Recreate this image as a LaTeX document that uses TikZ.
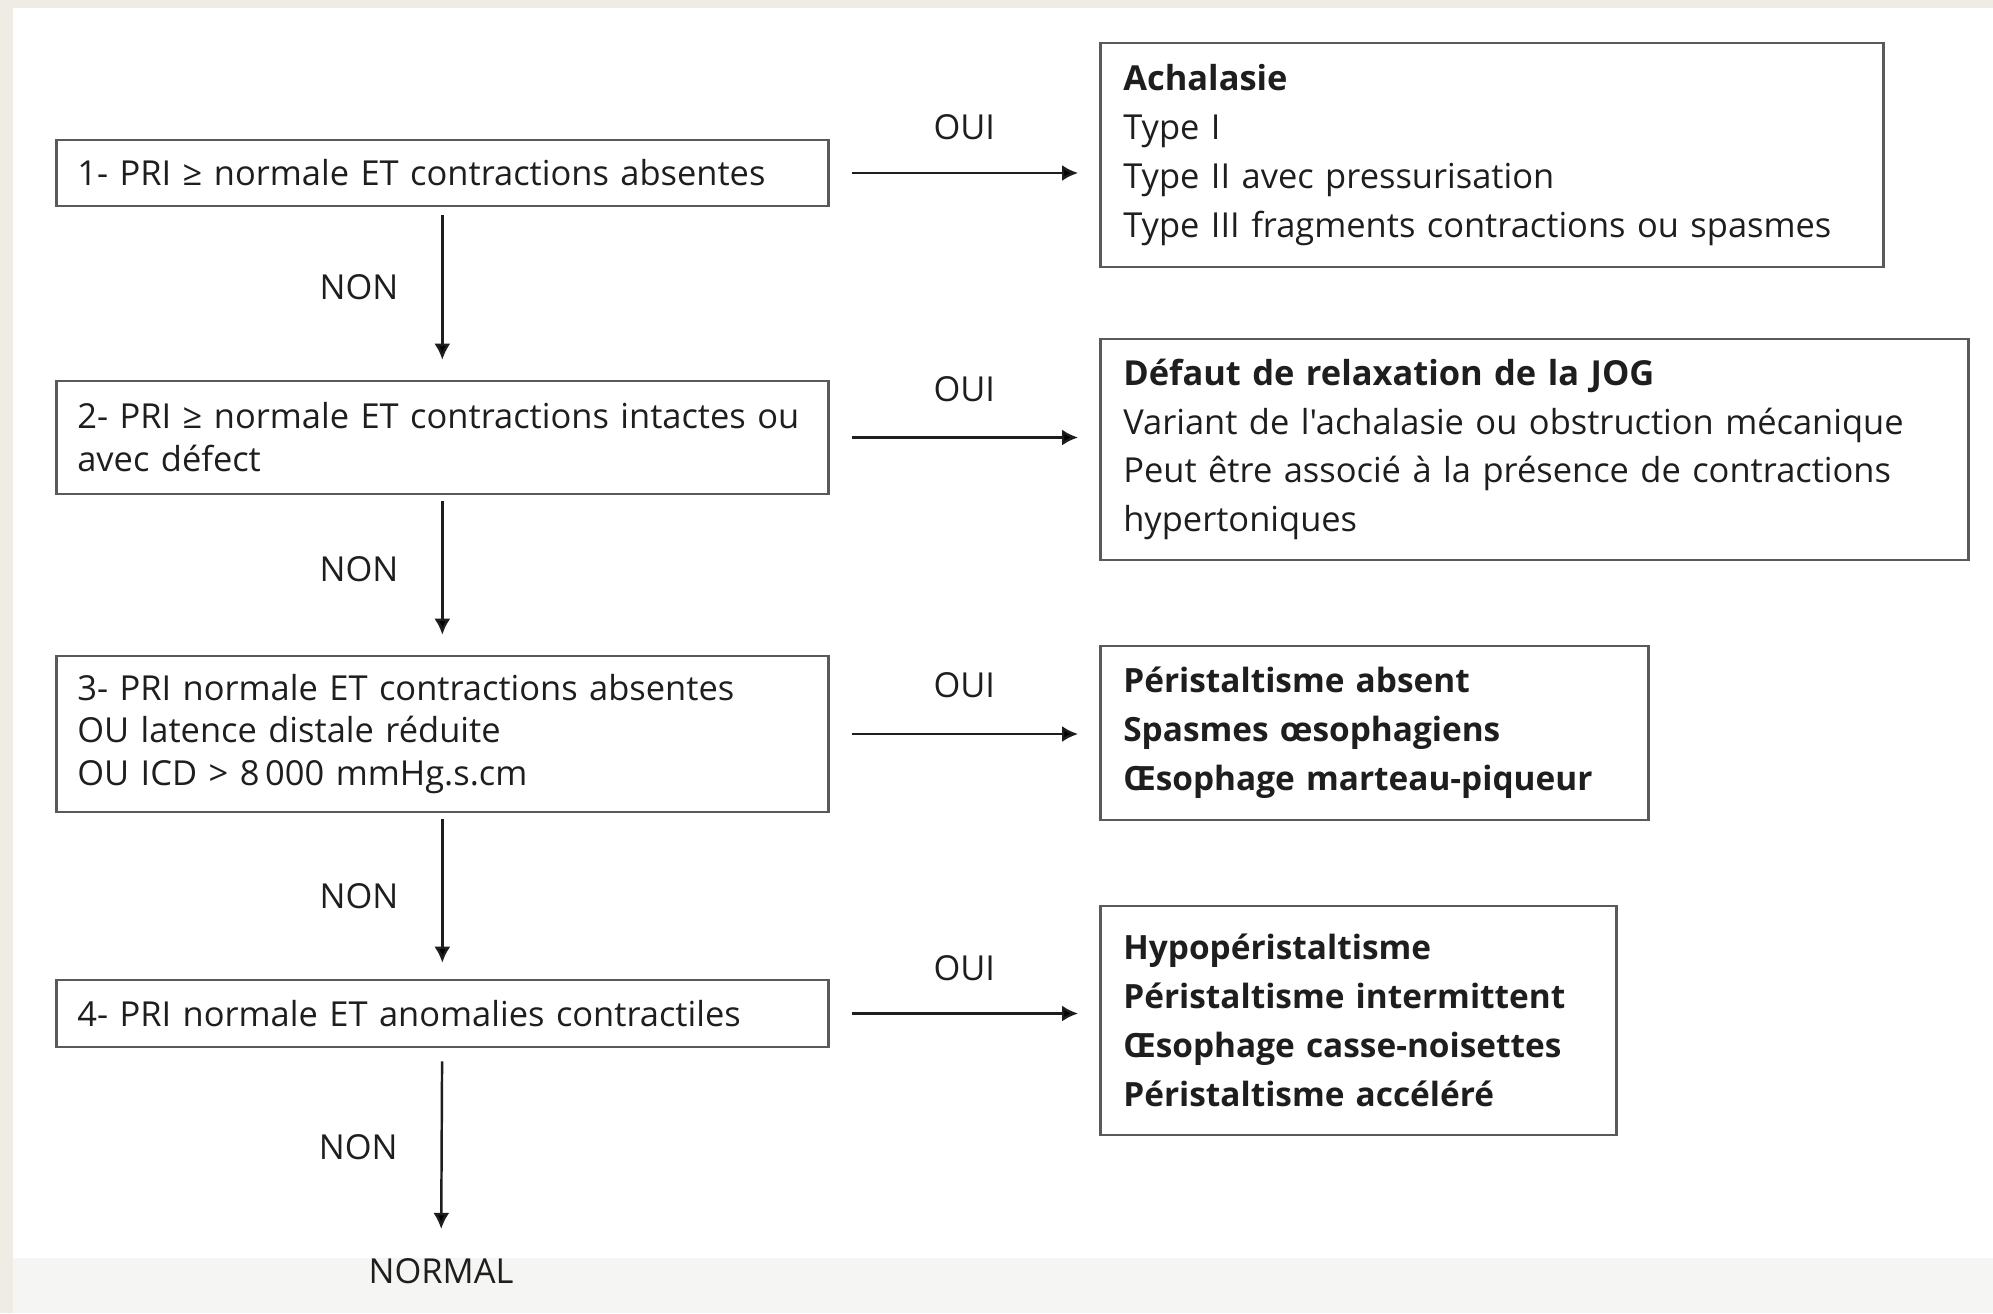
\documentclass[tikz,border=0pt]{standalone}
\usepackage{fontspec}
\setmainfont{Open Sans}[Ligatures=TeXOff]
\usetikzlibrary{arrows.meta,positioning}

\definecolor{paper}{HTML}{EFECE6}
\definecolor{band}{HTML}{F5F5F4}
\definecolor{ink}{HTML}{1E1E1E}
\definecolor{frame}{HTML}{5A5A5A}

\begin{document}
\begin{tikzpicture}[
	test/.style={draw=frame,line width=0.75pt,anchor=west,inner xsep=0.21cm,inner ysep=0pt,
		text width=7.3cm,align=left,font=\fontsize{9.8}{12.2}\selectfont,text=ink},
	result/.style={draw=frame,line width=0.75pt,anchor=west,inner xsep=0.23cm,inner ysep=0pt,
		align=left,font=\fontsize{9.8}{13.9}\selectfont,text=ink},
	arr/.style={draw=ink,line width=0.7pt,-{Latex[length=0.16cm,width=0.16cm]}},
	lab/.style={font=\fontsize{9.8}{10}\selectfont,text=ink}
	]
	
	% page
	\useasboundingbox (0,0) rectangle (19.93,-13.13);
	\fill[paper] (0,0) rectangle (19.93,-13.13);
	\fill[white] (0.13,-0.08) rectangle (19.93,-12.58);
	\fill[band] (0.13,-12.58) rectangle (19.93,-13.13);
	
	% tests
	\node[test,minimum height=0.66cm] (c1) at (0.55,-1.73) {1- PRI ≥ normale ET contractions absentes};
	\node[test,minimum height=1.13cm] (c2) at (0.55,-4.375) {2- PRI ≥ normale ET contractions intactes ou\\avec défect};
	\node[test,minimum height=1.56cm] (c3) at (0.55,-7.34) {3- PRI normale ET contractions absentes\\OU latence distale réduite\\OU ICD > 8\,000 mmHg.s.cm};
	\node[test,minimum height=0.67cm] (c4) at (0.55,-10.135) {4- PRI normale ET anomalies contractiles};
	\node[lab] (normal) at (4.41,-12.71) {NORMAL};
	
	% diagnoses
	\node[result,text width=7.37cm,minimum height=2.24cm] (achal) at (10.99,-1.55)
		{\textbf{Achalasie}\\Type I\\Type II avec pressurisation\\Type III fragments contractions ou spasmes};
	\node[result,text width=8.22cm,minimum height=2.21cm] (jog) at (10.99,-4.495)
		{\textbf{Défaut de relaxation de la JOG}\\Variant de l'achalasie ou obstruction mécanique\\Peut être associé à la présence de contractions\\hypertoniques};
	\node[result,text width=5.02cm,minimum height=1.74cm,font=\fontsize{9.5}{13.9}\selectfont\bfseries] (major) at (10.99,-7.33)
		{Péristaltisme absent\\Spasmes œsophagiens\\Œsophage marteau-piqueur};
	\node[result,text width=4.70cm,minimum height=2.29cm,font=\fontsize{9.5}{13.9}\selectfont\bfseries] (minor) at (10.99,-10.205)
		{Hypopéristaltisme\\Péristaltisme intermittent\\Œsophage casse-noisettes\\Péristaltisme accéléré};
	
	% NON
	\path[arr,shorten <=0.08cm,shorten >=0.2cm] (c1) edge node[lab,left=0.31cm,yshift=0.06cm] {NON} (c2);
	\path[arr,shorten <=0.06cm,shorten >=0.2cm] (c2) edge node[lab,left=0.31cm,yshift=0.06cm] {NON} (c3);
	\path[arr,shorten <=0.06cm,shorten >=0.16cm] (c3) edge node[lab,left=0.31cm] {NON} (c4);
	\path[arr,shorten <=0.13cm,shorten >=0.17cm] (c4) edge node[lab,left=0.31cm] {NON} (normal);
	
	% OUI
	\path[arr,shorten <=0.22cm,shorten >=0.21cm] (c1) edge node[lab,above=0.2cm] {OUI} (c1 -| achal.west);
	\path[arr,shorten <=0.22cm,shorten >=0.21cm] (c2) edge node[lab,above=0.23cm] {OUI} (c2 -| jog.west);
	\path[arr,shorten <=0.22cm,shorten >=0.21cm] (c3) edge node[lab,above=0.23cm] {OUI} (c3 -| major.west);
	\path[arr,shorten <=0.22cm,shorten >=0.21cm] (c4) edge node[lab,above=0.2cm] {OUI} (c4 -| minor.west);
	\end{tikzpicture}
\end{document}
